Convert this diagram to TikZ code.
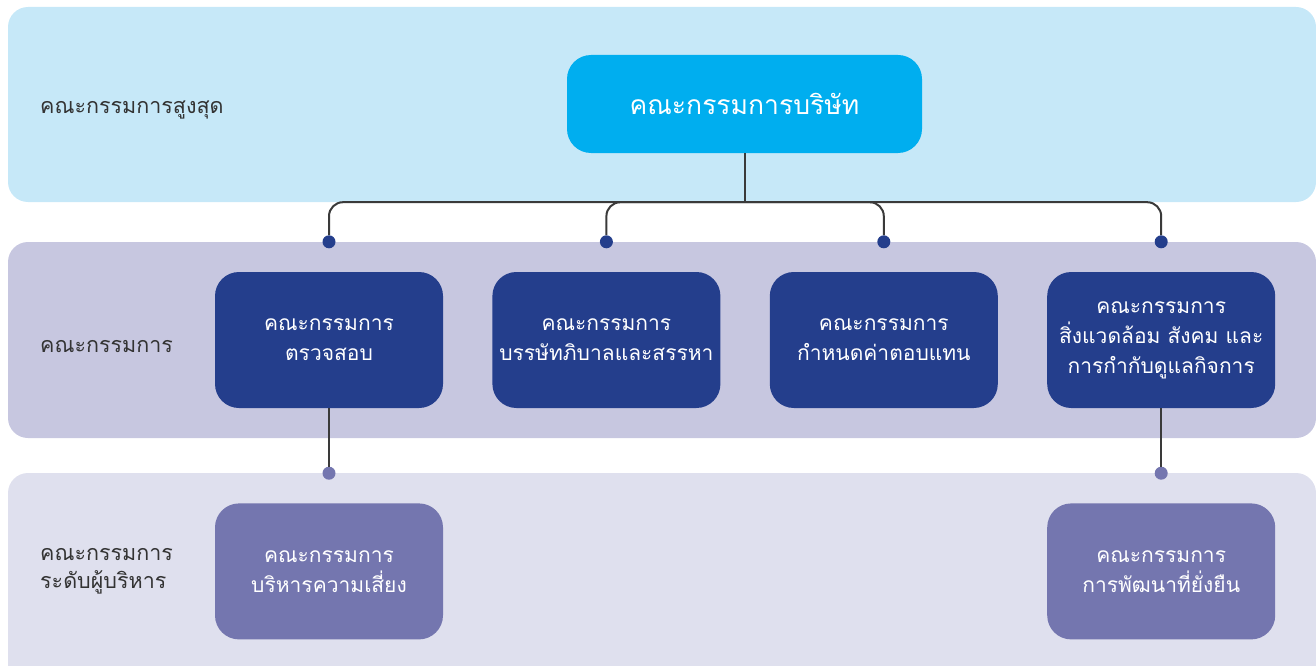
\documentclass[tikz,border=0pt]{standalone}
\usepackage{fontspec}
\newfontfamily\thaifont[Script=Thai]{Loma}
\usetikzlibrary{positioning, calc}
\definecolor{cBandTop}{HTML}{C6E8F8}
\definecolor{cBandMid}{HTML}{C7C7E0}
\definecolor{cBandLow}{HTML}{DFE0EE}
\definecolor{cCyan}{HTML}{00AEEF}
\definecolor{cNavy}{HTML}{243E8C}
\definecolor{cLav}{HTML}{7476AF}
\definecolor{cLine}{HTML}{3A3A3A}
\definecolor{cLabel}{HTML}{333333}
\tikzset{
	band/.style     ={fill=#1, draw=none, rounded corners=20pt},
	topbox/.style   ={rectangle, rounded corners=24pt, fill=cCyan, minimum width=355pt, minimum height=98pt, align=center, text=white, font=\thaifont\fontsize{26.5}{30}\selectfont},
	cmte/.style     ={rectangle, rounded corners=24pt, fill=cNavy, minimum width=228pt, minimum height=136pt, align=center, text=white, font=\thaifont\fontsize{21}{30}\selectfont},
	subcmte/.style  ={cmte, fill=cLav},
	lvl/.style      ={anchor=west, align=left, inner sep=0pt, text=cLabel, font=\thaifont\fontsize{21.5}{28}\selectfont},
	% connectors
	link/.style     ={draw=cLine, line width=2pt, rounded corners=14pt},
	dot/.style      ={circle, fill=#1, inner sep=0pt, minimum size=13pt},
}
\begin{document}
\begin{tikzpicture}[x=1pt, y=-1pt]
	\useasboundingbox (0,0) rectangle (1316,666);
	% level bands
	\fill[band=cBandTop] (8,7) rectangle (1316,202);
	\fill[band=cBandMid] (8,242) rectangle (1316,438);
	\fill[band=cBandLow] (8,473) rectangle (1316,700);
	\node[lvl] (l1) at (40,110) {คณะกรรมการสูงสุด};
	\node[lvl] (l2) at (40,347) {คณะกรรมการ};
	\node[lvl] (l3) at (40,571) {คณะกรรมการ\\ระดับผู้บริหาร};
	% board
	\node[topbox] (top) at (744.5,104) {คณะกรรมการบริษัท};
	\coordinate (j) at ($(top.south)+(0,49)$);
	% committees
	\node[cmte] (b1) at (329,340) {คณะกรรมการ\\ตรวจสอบ};
	\node[cmte, right=49pt of b1] (b2) {คณะกรรมการ\\บรรษัทภิบาลและสรรหา};
	\node[cmte, right=49pt of b2] (b3) {คณะกรรมการ\\กำหนดค่าตอบแทน};
	\node[cmte, right=49pt of b3] (b4) {คณะกรรมการ\\สิ่งแวดล้อม สังคม และ\\การกำกับดูแลกิจการ};
	\node[subcmte, below=95pt of b1] (r1) {คณะกรรมการ\\บริหารความเสี่ยง};
	\node[subcmte, below=95pt of b4] (r2) {คณะกรรมการ\\การพัฒนาที่ยั่งยืน};
	% dots
	\foreach \b in {1,2,3,4}
		\node[dot=cNavy] (d\b) at ($(b\b.north)+(0,-30)$) {};
	\node[dot=cLav] (e1) at ($(r1.north)+(0,-30)$) {};
	\node[dot=cLav] (e2) at ($(r2.north)+(0,-30)$) {};
	% connectors
	\draw[link] (top) -- (j);
	\draw[link] (d1) |- (j) -| (d4);
	\draw[link] (d2) |- (j) -| (d3);
	\draw[link] (b1) -- (e1);
	\draw[link] (b4) -- (e2);
\end{tikzpicture}
\end{document}
